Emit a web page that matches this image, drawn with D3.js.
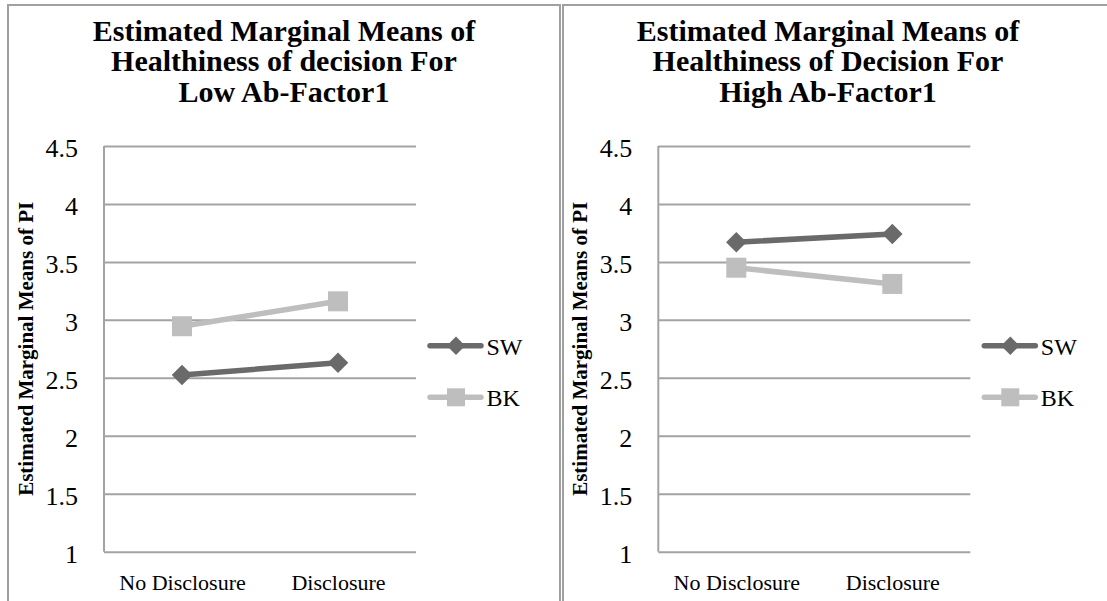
<!DOCTYPE html>
<html>
<head>
<meta charset="utf-8">
<script src="https://cdn.jsdelivr.net/npm/d3@7"></script>
<style>
  body { margin: 0; background: #fff; }
  svg { display: block; font-family: "Liberation Serif", serif; }
  svg text { font-family: "Liberation Serif", serif; }
</style>
</head>
<body>
<svg id="chart" width="1107" height="601"></svg>
<script>
// data
const categories = ["No Disclosure", "Disclosure"];
const seriesNames = ["SW", "BK"];
const yTicks = [1, 1.5, 2, 2.5, 3, 3.5, 4, 4.5];

const lowTitle = ["Estimated Marginal Means of", "Healthiness of decision For", "Low Ab-Factor1"];
const lowSW = [2.525, 2.63];
const lowBK = [2.945, 3.16];

const highTitle = ["Estimated Marginal Means of", "Healthiness of Decision For", "High Ab-Factor1"];
const highSW = [3.67, 3.74];
const highBK = [3.45, 3.31];

const yTitle = "Estimated Marginal Means of PI";

const colors = { SW: "#6a6a6a", BK: "#bebebe" };
const borderColor = "#a0a0a0";
const gridColor = "#a3a3a3";

const svg = d3.select("#chart");

// panel frames
svg.append("path")
  .attr("d", "M8,601 V5 H560 V601")
  .attr("fill", "none").attr("stroke", borderColor).attr("stroke-width", 2);
svg.append("path")
  .attr("d", "M563,601 V5 H1107")
  .attr("fill", "none").attr("stroke", borderColor).attr("stroke-width", 2);

const plotW = 312, plotH = 405.7;

// side = square side length (diamond is a rotated square)
function drawMarker(sel, name, side) {
  if (name === "SW") {
    sel.append("path")
      .attr("d", d3.symbol(d3.symbolSquare, side * side)())
      .attr("transform", "rotate(45)")
      .attr("fill", colors.SW);
  } else {
    sel.append("rect")
      .attr("x", -side / 2).attr("y", -side / 2)
      .attr("width", side).attr("height", side)
      .attr("fill", colors.BK);
  }
}

function drawPanel(panelX, titleLines, titleCx, sw, bk) {
  const g = svg.append("g");

  // title
  g.append("text")
    .attr("text-anchor", "middle")
    .attr("font-weight", "bold")
    .attr("font-size", 30)
    .attr("fill", "#000")
    .selectAll("tspan")
    .data(titleLines)
    .join("tspan")
    .attr("x", titleCx)
    .attr("y", (d, i) => 41 + i * 30.3)
    .text(d => d);

  const plot = g.append("g").attr("transform", `translate(${panelX + 96},146)`);

  const x = d3.scalePoint().domain(categories).range([0, plotW]).padding(0.5);
  const y = d3.scaleLinear().domain([1, 4.5]).range([plotH, 0]);

  // gridlines + y labels
  const yAxis = plot.append("g")
    .call(d3.axisLeft(y).tickValues(yTicks).tickSize(-plotW).tickPadding(26).tickFormat(d3.format("")))
    .attr("font-family", null);
  yAxis.select(".domain").remove();
  yAxis.selectAll(".tick line").attr("stroke", gridColor).attr("stroke-width", 2);
  yAxis.selectAll(".tick text")
    .style("font-family", "'Liberation Serif', serif")
    .attr("font-size", 26)
    .attr("fill", "#000")
    .attr("dy", "0.42em");

  // left axis line
  plot.append("line")
    .attr("x1", 0).attr("x2", 0).attr("y1", 0).attr("y2", plotH)
    .attr("stroke", gridColor).attr("stroke-width", 2);

  // x labels
  const xAxis = plot.append("g")
    .attr("transform", `translate(0,${plotH})`)
    .call(d3.axisBottom(x).tickSize(0).tickPadding(23))
    .attr("font-family", null);
  xAxis.select(".domain").remove();
  xAxis.selectAll(".tick text")
    .style("font-family", "'Liberation Serif', serif")
    .attr("font-size", 22)
    .attr("fill", "#000");

  // y axis title
  g.append("text")
    .attr("transform", `translate(${panelX + 25},${146 + plotH / 2}) rotate(-90)`)
    .attr("text-anchor", "middle")
    .attr("font-weight", "bold")
    .attr("font-size", 21)
    .text(yTitle);

  // lines
  const seriesData = [
    { name: "SW", values: sw },
    { name: "BK", values: bk }
  ];
  const line = d3.line()
    .x((d, i) => x(categories[i]))
    .y(d => y(d));

  // draw BK first so SW sits on top where they meet
  const order = [seriesData[1], seriesData[0]];
  order.forEach(s => {
    plot.append("path")
      .datum(s.values)
      .attr("fill", "none")
      .attr("stroke", colors[s.name])
      .attr("stroke-width", 5.5)
      .attr("stroke-linecap", "round")
      .attr("d", line);
    plot.selectAll(null)
      .data(s.values)
      .join("g")
      .attr("transform", (d, i) => `translate(${x(categories[i])},${y(d)})`)
      .each(function () { drawMarker(d3.select(this), s.name, s.name === "SW" ? 14.5 : 20); });
  });

  // legend
  const legend = plot.append("g").attr("transform", `translate(${plotW + 12},0)`);
  const legendY = d3.scaleOrdinal().domain(seriesNames).range([199.7, 251.3]);
  seriesNames.forEach(name => {
    const lg = legend.append("g").attr("transform", `translate(0,${legendY(name)})`);
    lg.append("line")
      .attr("x1", 2).attr("x2", 53)
      .attr("stroke", colors[name]).attr("stroke-width", 5.5)
      .attr("stroke-linecap", "round");
    const m = lg.append("g").attr("transform", "translate(28,0)");
    drawMarker(m, name, name === "SW" ? 13 : 18);
    lg.append("text")
      .attr("x", 58.5)
      .attr("y", 9)
      .attr("font-size", 24)
      .attr("fill", "#000")
      .text(name);
  });
}

drawPanel(8, lowTitle, 284, lowSW, lowBK);
drawPanel(562.3, highTitle, 828, highSW, highBK);
</script>
</body>
</html>
